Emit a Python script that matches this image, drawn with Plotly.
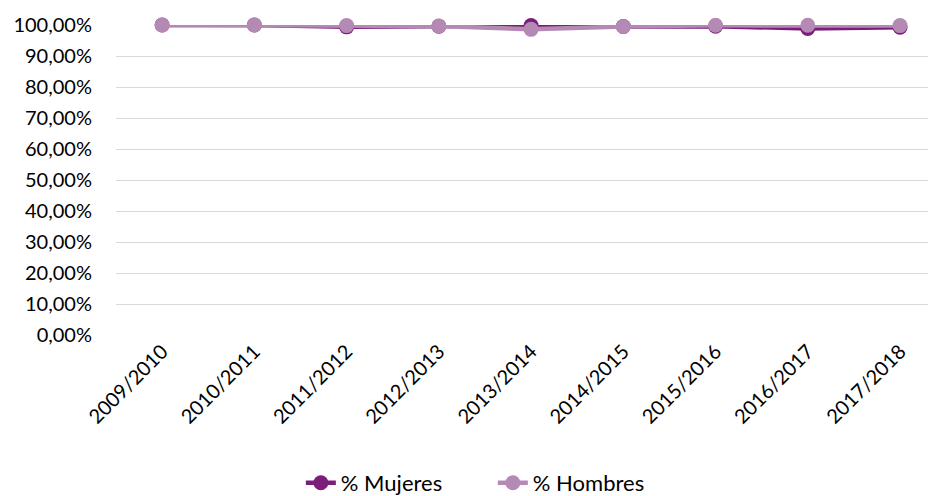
import plotly.graph_objects as go

categories = ["2009/2010", "2010/2011", "2011/2012", "2012/2013", "2013/2014",
              "2014/2015", "2015/2016", "2016/2017", "2017/2018"]
mujeres = [100.0, 100.0, 99.4, 99.6, 99.8, 99.5, 99.6, 98.9, 99.3]
hombres = [100.0, 100.0, 99.8, 99.7, 98.6, 99.5, 99.9, 99.9, 99.8]
y_ticks = [0, 10, 20, 30, 40, 50, 60, 70, 80, 90, 100]
y_ticktext = [f"{v:.2f}".replace(".", ",") + "%" for v in y_ticks]

fig = go.Figure()
fig.add_trace(go.Scatter(x=categories, y=mujeres, name="% Mujeres", mode="lines+markers",
                         line=dict(color="#7B1E7A", width=4.5),
                         marker=dict(size=15, color="#7B1E7A"), cliponaxis=False))
fig.add_trace(go.Scatter(x=categories, y=hombres, name="% Hombres", mode="lines+markers",
                         line=dict(color="#B48AB5", width=4.5),
                         marker=dict(size=15, color="#B48AB5"), cliponaxis=False))

fig.update_layout(
    width=936, height=496,
    margin=dict(l=108, r=8, t=17, b=169, autoexpand=False),
    paper_bgcolor="white", plot_bgcolor="white",
    font=dict(family="Lato, Open Sans, sans-serif", size=20, color="#000000"),
    showlegend=True,
    legend=dict(orientation="h", xref="container", yref="container",
                x=0.518, xanchor="center", y=0.0, yanchor="bottom",
                font=dict(size=22), entrywidth=147, entrywidthmode="pixels"),
    xaxis=dict(type="category", range=[-0.5, 8.39], showgrid=False, showline=False,
               tickangle=-45, ticks="", zeroline=False, automargin=False,
               tickfont=dict(size=20)),
    yaxis=dict(range=[0, 100], tickvals=y_ticks, ticktext=y_ticktext,
               showgrid=True, gridcolor="#D9D9D9", gridwidth=1.2, zeroline=False,
               showline=False, ticks="outside", ticklen=19, tickcolor="rgba(0,0,0,0)",
               automargin=False, tickfont=dict(size=20)),
)

fig.write_html("out.html")
